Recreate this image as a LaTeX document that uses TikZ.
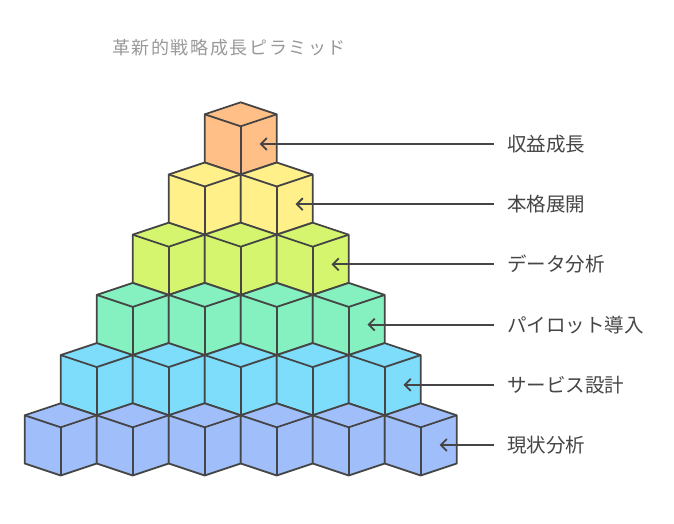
\documentclass[tikz,border=0pt]{standalone}
\usepackage{fontspec}
\newfontfamily\jp{Noto Sans CJK JP}
\usetikzlibrary{arrows.meta}
\definecolor{edgec}{HTML}{454545}
\definecolor{txtc}{HTML}{454545}
\definecolor{titc}{HTML}{999999}
\definecolor{c0}{HTML}{FFBF87}
\definecolor{c1}{HTML}{FFF08A}
\definecolor{c2}{HTML}{D5F56E}
\definecolor{c3}{HTML}{85F0C0}
\definecolor{c4}{HTML}{7EDDFA}
\definecolor{c5}{HTML}{A0BFFA}
\tikzset{
  cubeline/.style={draw=edgec, line width=1.8pt, line join=round},
  lab/.style={anchor=west, inner sep=0pt, text=txtc, font=\jp\fontsize{19.5}{21}\selectfont},
  arr/.style={draw=edgec, line width=2pt, -{Straight Barb[length=6pt,width=12pt,line width=1.8pt]}},
}
\newcommand{\mycube}[3]{% x, top y, color
  \filldraw[cubeline, fill=#3] (#1,#2) -- ++(36,12) -- ++(0,48.2) -- ++(-36,12) -- ++(-36,-12) -- ++(0,-48.2) -- cycle;
  \draw[cubeline] (#1-36,#2+12) -- (#1,#2+24) -- (#1+36,#2+12);
  \draw[cubeline] (#1,#2+24) -- (#1,#2+72.2);
}
\begin{document}
\begin{tikzpicture}[x=1pt,y=-1pt]
\useasboundingbox (0,0) rectangle (674,524);
\node[anchor=west, inner sep=0pt, text=titc, font=\jp\fontsize{18}{20}\selectfont] (title) at (112,48)
  {革\kern1.6pt 新\kern1.6pt 的\kern1.6pt 戦\kern1.6pt 略\kern1.6pt 成\kern1.6pt 長\kern1.6pt ピ\kern1.6pt ラ\kern1.6pt ミ\kern1.6pt ッ\kern1.6pt ド};
\foreach \k/\col in {0/c0,1/c1,2/c2,3/c3,4/c4,5/c5}{
  \pgfmathsetmacro{\ty}{102.3+60.2*\k}
  \foreach \i in {0,...,\k}{
    \pgfmathsetmacro{\cx}{240.7-36*\k+72*\i}
    \mycube{\cx}{\ty}{\col}
  }
}
\foreach \k/\txt in {0/収益成長,1/本格展開,2/データ分析,3/パイロット導入,4/サービス設計,5/現状分析}{
  \pgfmathsetmacro{\ay}{144+60.2*\k}
  \pgfmathsetmacro{\ax}{259.5+36*\k}
  \coordinate (tip\k) at (\ax,\ay);
  \node[lab] (lab\k) at (507,\ay) {\txt};
  \draw[arr] ([xshift=-13pt]lab\k.west) -- (tip\k);
}
\end{tikzpicture}
\end{document}
